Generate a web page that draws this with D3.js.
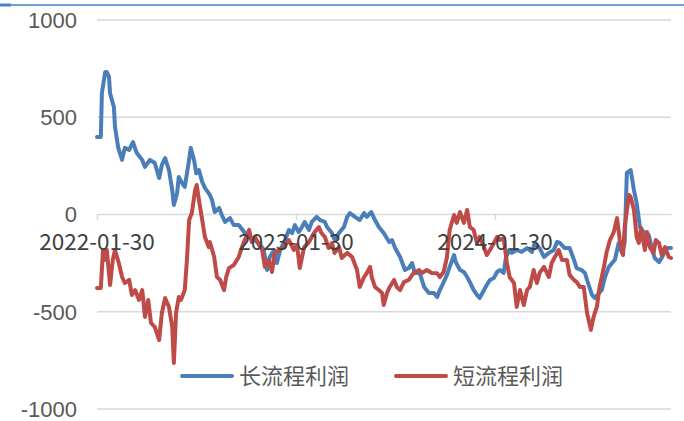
<!DOCTYPE html>
<html>
<head>
<meta charset="utf-8">
<script src="https://cdn.jsdelivr.net/npm/d3@7"></script>
<style>
  body { margin: 0; background: #fff; }
  svg { display: block; font-family: "Noto Sans CJK SC", "Noto Sans", sans-serif; }
</style>
</head>
<body>
<div id="chart"></div>
<script>
// series names
var seriesNames = ["长流程利润", "短流程利润"];

// y axis ticks
var yTicks = [-1000, -500, 0, 500, 1000];

// x axis labelled dates
var xTickDates = ["2022-01-30", "2023-01-30", "2024-01-30"];

// long process profit (blue)
var longDates = [
  "2022-01-30","2022-02-06","2022-02-08","2022-02-14","2022-02-17","2022-02-21","2022-02-23","2022-03-02","2022-03-04","2022-03-10",
  "2022-03-17","2022-03-22","2022-03-30","2022-04-06","2022-04-13","2022-04-23","2022-04-28","2022-05-07","2022-05-16","2022-05-24",
  "2022-05-29","2022-06-04","2022-06-11","2022-06-17","2022-06-20","2022-06-26","2022-06-29","2022-07-05","2022-07-10","2022-07-18",
  "2022-07-21","2022-07-27","2022-07-31","2022-08-05","2022-08-11","2022-08-16","2022-08-25","2022-08-29","2022-09-03","2022-09-11",
  "2022-09-16","2022-09-22","2022-10-01","2022-10-08","2022-10-17","2022-10-27","2022-11-05","2022-11-14","2022-11-23","2022-12-02",
  "2022-12-08","2022-12-13","2022-12-21","2022-12-26","2023-01-01","2023-01-10","2023-01-17","2023-01-23","2023-01-28","2023-02-04",
  "2023-02-10","2023-02-15","2023-02-23","2023-02-28","2023-03-09","2023-03-15","2023-03-24","2023-03-28","2023-04-06","2023-04-11",
  "2023-04-19","2023-04-28","2023-05-04","2023-05-09","2023-05-18","2023-05-27","2023-06-04","2023-06-09","2023-06-17","2023-06-24",
  "2023-07-01","2023-07-10","2023-07-20","2023-07-25","2023-07-31","2023-08-09","2023-08-18","2023-08-25","2023-08-31","2023-09-05",
  "2023-09-14","2023-09-22","2023-10-01","2023-10-10","2023-10-16","2023-10-21","2023-10-28","2023-11-03","2023-11-08","2023-11-16",
  "2023-11-19","2023-11-27","2023-12-04","2023-12-10","2023-12-15","2023-12-22","2023-12-28","2024-01-02","2024-01-10","2024-01-15",
  "2024-01-21","2024-01-28","2024-02-03","2024-02-08","2024-02-15","2024-02-19","2024-02-25","2024-03-01","2024-03-10","2024-03-19",
  "2024-03-29","2024-04-07","2024-04-12","2024-04-21","2024-04-29","2024-05-08","2024-05-17","2024-05-23","2024-05-28","2024-06-06",
  "2024-06-15","2024-06-23","2024-06-28","2024-07-07","2024-07-13","2024-07-20","2024-07-26","2024-07-31","2024-08-08","2024-08-13",
  "2024-08-19","2024-08-26","2024-09-01","2024-09-06","2024-09-13","2024-09-19","2024-09-24","2024-09-28","2024-10-05","2024-10-11",
  "2024-10-16","2024-10-22","2024-10-29","2024-11-07","2024-11-13","2024-11-18","2024-11-26","2024-12-01","2024-12-10","2024-12-18"
];
var longValues = [
  396, 396, 622, 730, 730, 705, 620, 550, 447, 340,
  278, 340, 330, 370, 313, 278, 242, 278, 262, 185,
  252, 288, 226, 123, 46, 108, 190, 160, 139, 278,
  340, 278, 210, 226, 165, 134, 98, 72, 10, 31,
  -5, -41, -21, -57, -57, -93, -118, -134, -149, -185,
  -288, -221, -185, -252, -185, -134, -82, -98, -57, -93,
  -67, -41, -82, -41, -15, -31, -41, -67, -98, -134,
  -98, -67, -15, 5, -15, -31, 5, -15, 10, -31,
  -67, -98, -144, -134, -175, -221, -288, -278, -252, -303,
  -303, -375, -406, -406, -427, -391, -350, -313, -272, -211,
  -247, -288, -298, -324, -350, -391, -416, -432, -391, -365,
  -339, -329, -298, -288, -303, -226, -185, -200, -185, -195,
  -175, -195, -149, -175, -221, -200, -185, -144, -149, -175,
  -175, -236, -278, -288, -303, -365, -416, -432, -406, -391,
  -324, -272, -252, -236, -149, -200, -149, 211, 226, 123,
  57, -67, -93, -108, -175, -226, -247, -226, -175, -175
];

// short process profit (red)
var shortDates = [
  "2022-01-30","2022-02-06","2022-02-10","2022-02-14","2022-02-17","2022-02-23","2022-02-28","2022-03-04","2022-03-11","2022-03-17",
  "2022-03-22","2022-03-30","2022-04-04","2022-04-10","2022-04-17","2022-04-23","2022-04-28","2022-05-04","2022-05-09","2022-05-16",
  "2022-05-24","2022-05-29","2022-06-04","2022-06-11","2022-06-17","2022-06-20","2022-06-24","2022-06-29","2022-07-03","2022-07-10",
  "2022-07-14","2022-07-18","2022-07-23","2022-07-29","2022-08-01","2022-08-05","2022-08-11","2022-08-16","2022-08-23","2022-08-25",
  "2022-09-02","2022-09-07","2022-09-13","2022-09-20","2022-09-24","2022-09-29","2022-10-08","2022-10-17","2022-10-23","2022-10-28",
  "2022-11-05","2022-11-10","2022-11-16","2022-11-23","2022-11-29","2022-12-04","2022-12-11","2022-12-17","2022-12-22","2022-12-30",
  "2023-01-08","2023-01-17","2023-01-26","2023-02-01","2023-02-06","2023-02-14","2023-02-23","2023-03-04","2023-03-13","2023-03-17",
  "2023-03-24","2023-03-31","2023-04-06","2023-04-11","2023-04-19","2023-04-24","2023-05-04","2023-05-13","2023-05-22","2023-05-27",
  "2023-06-04","2023-06-09","2023-06-15","2023-06-18","2023-06-24","2023-07-01","2023-07-07","2023-07-10","2023-07-16","2023-07-21",
  "2023-07-29","2023-08-03","2023-08-09","2023-08-16","2023-08-25","2023-09-03","2023-09-13","2023-09-18","2023-09-27","2023-10-06",
  "2023-10-16","2023-10-21","2023-10-28","2023-11-03","2023-11-08","2023-11-16","2023-11-21","2023-11-27","2023-12-04","2023-12-10",
  "2023-12-15","2023-12-22","2023-12-28","2024-01-02","2024-01-10","2024-01-15","2024-01-21","2024-01-28","2024-02-03","2024-02-08",
  "2024-02-15","2024-02-21","2024-02-26","2024-03-05","2024-03-10","2024-03-16","2024-03-23","2024-03-29","2024-04-03","2024-04-10",
  "2024-04-16","2024-04-21","2024-04-29","2024-05-08","2024-05-13","2024-05-21","2024-05-26","2024-06-01","2024-06-10","2024-06-15",
  "2024-06-23","2024-06-28","2024-07-04","2024-07-11","2024-07-17","2024-07-20","2024-07-24","2024-07-29","2024-08-04","2024-08-09",
  "2024-08-17","2024-08-22","2024-08-28","2024-09-04","2024-09-10","2024-09-15","2024-09-21","2024-09-24","2024-10-02","2024-10-05",
  "2024-10-11","2024-10-16","2024-10-20","2024-10-24","2024-10-31","2024-11-04","2024-11-09","2024-11-16","2024-11-20","2024-11-26",
  "2024-12-01","2024-12-07","2024-12-14","2024-12-18"
];
var shortValues = [
  -380, -380, -185, -236, -185, -365, -236, -185, -252, -324,
  -355, -339, -416, -391, -442, -391, -529, -442, -560, -581,
  -648, -509, -432, -478, -581, -766, -509, -427, -442, -391,
  -236, -31, 5, 123, 149, 72, -31, -118, -170, -144,
  -221, -324, -339, -391, -324, -278, -262, -221, -170, -134,
  -82, -144, -118, -159, -185, -272, -236, -298, -200, -185,
  -170, -134, -185, -159, -278, -170, -144, -98, -67, -95,
  -118, -175, -149, -200, -170, -226, -200, -221, -288, -375,
  -324, -303, -272, -324, -375, -391, -406, -468, -406, -375,
  -339, -375, -391, -350, -339, -303, -288, -303, -288, -303,
  -305, -324, -298, -221, -82, -5, -46, 10, -46, 21,
  -67, -82, -149, -118, -170, -211, -185, -149, -118, -134,
  -123, -252, -324, -355, -478, -391, -468, -391, -375, -288,
  -355, -303, -272, -324, -252, -211, -185, -236, -236, -313,
  -339, -350, -375, -375, -509, -545, -596, -529, -478, -375,
  -272, -195, -134, -93, -21, -134, -211, -67, 98, 87,
  21, -118, -149, -72, -185, -93, -170, -200, -134, -149,
  -211, -170, -221, -226
];

var colors = ["#4a7ebb", "#be4b48"];

var W = 684, H = 421;
var plotLeft = 97, plotRight = 671, plotTop = 19.5, plotBottom = 408.5;

var parse = d3.timeParse("%Y-%m-%d");

var svg = d3.select("#chart").append("svg")
  .attr("width", W)
  .attr("height", H);

// thin selection border at the very top
svg.append("line")
  .attr("x1", 0).attr("x2", W).attr("y1", 5).attr("y2", 5)
  .attr("stroke", "#3f86c9").attr("stroke-width", 1.3);
svg.append("line")
  .attr("x1", 0).attr("x2", 11).attr("y1", 5).attr("y2", 5)
  .attr("stroke", "#3f86c9").attr("stroke-width", 3);

var x = d3.scaleTime()
  .domain([parse(longDates[0]), parse(longDates[longDates.length - 1])])
  .range([plotLeft, plotRight]);

var y = d3.scaleLinear()
  .domain([-1000, 1000])
  .range([plotBottom, plotTop]);

// y axis with gridlines
var yAxis = svg.append("g")
  .attr("transform", "translate(" + plotLeft + ",0)")
  .call(d3.axisLeft(y)
    .tickValues(yTicks)
    .tickFormat(function(d) { return String(d); })
    .tickSize(-(plotRight - plotLeft))
    .tickPadding(20));
yAxis.select(".domain").remove();
yAxis.selectAll(".tick line")
  .attr("stroke", "#d9d9d9").attr("stroke-width", 1.5)
  .attr("display", function(d) { return d === 0 ? "none" : null; });
yAxis.selectAll(".tick text")
  .attr("fill", "#595959")
  .style("font-size", "22px")
  .attr("dy", "0.36em");

// series lines
var line = d3.line()
  .x(function(d) { return x(d[0]); })
  .y(function(d) { return y(d[1]); });

var longData = longDates.map(function(d, i) { return [parse(d), longValues[i]]; });
var shortData = shortDates.map(function(d, i) { return [parse(d), shortValues[i]]; });

// zero axis line drawn under the lines
var xAxis = svg.append("g")
  .attr("transform", "translate(0," + y(0) + ")")
  .call(d3.axisBottom(x)
    .tickValues(xTickDates.map(parse))
    .tickFormat(d3.timeFormat("%Y-%m-%d"))
    .tickSizeInner(6)
    .tickSizeOuter(0));
xAxis.select(".domain").attr("stroke", "#d9d9d9").attr("stroke-width", 1.5);
xAxis.selectAll(".tick line").attr("stroke", "#d9d9d9").attr("stroke-width", 1.5);
xAxis.selectAll(".tick text").remove();

[longData, shortData].forEach(function(data, i) {
  svg.append("path")
    .datum(data)
    .attr("fill", "none")
    .attr("stroke", colors[i])
    .attr("stroke-width", 4)
    .attr("stroke-linejoin", "round")
    .attr("stroke-linecap", "round")
    .attr("d", line);
});

// date labels drawn over the lines
svg.append("g").selectAll("text")
  .data(xTickDates)
  .enter().append("text")
  .attr("x", function(d) { return x(parse(d)); })
  .attr("y", y(0) + 36)
  .attr("text-anchor", "middle")
  .attr("fill", "#404040")
  .style("font-size", "22.5px")
  .text(function(d) { return d; });

// legend
var legendX = [182, 396];
var legend = svg.append("g").selectAll("g")
  .data(seriesNames)
  .enter().append("g")
  .attr("transform", function(d, i) { return "translate(" + legendX[i] + ",376)"; });
legend.append("line")
  .attr("x1", 0).attr("x2", 50)
  .attr("stroke", function(d, i) { return colors[i]; })
  .attr("stroke-width", 4)
  .attr("stroke-linecap", "round");
legend.append("text")
  .attr("x", 57)
  .attr("dy", "0.36em")
  .attr("fill", "#595959")
  .style("font-size", "22px")
  .text(function(d) { return d; });
</script>
</body>
</html>
